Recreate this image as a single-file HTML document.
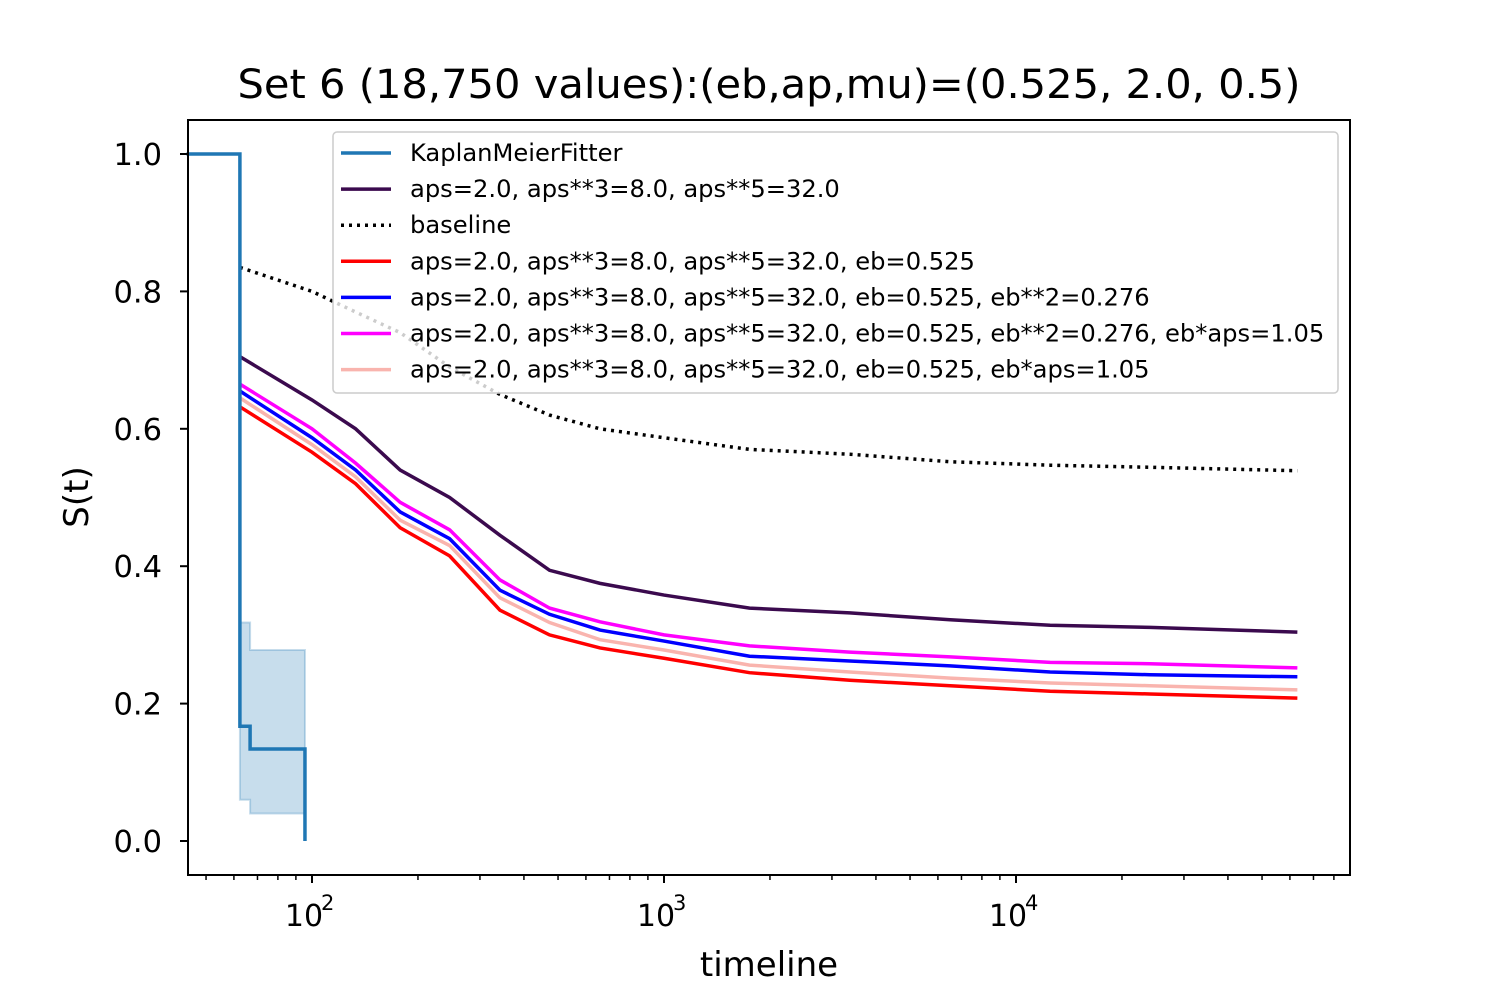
<!DOCTYPE html>
<html><head><meta charset="utf-8"><style>
body{margin:0;background:#fff}
text{font-family:"DejaVu Sans","Liberation Sans",sans-serif}
</style></head><body>
<svg id="chart" width="1500" height="1000" xmlns="http://www.w3.org/2000/svg">
<rect width="1500" height="1000" fill="#fff"/>
<text x="769" y="98" font-size="40" text-anchor="middle" textLength="1063" lengthAdjust="spacingAndGlyphs">Set 6 (18,750 values):(eb,ap,mu)=(0.525, 2.0, 0.5)</text>
<g id="plot"></g>
<rect x="188" y="120" width="1162" height="755" fill="none" stroke="#000" stroke-width="2"/>
<g id="axes"></g>
<text x="769" y="976" font-size="34" text-anchor="middle">timeline</text>
<text x="0" y="0" font-size="34" text-anchor="middle" transform="translate(88,497) rotate(-90)">S(t)</text>
<g id="legend"></g>
</svg>
<script>
const kmTimes=[44,62.4,66.7,95.5];
const kmSurv=[1.0,0.167,0.134,0.0];
const kmUpper=[0.318,0.278];
const kmLower=[0.06,0.04];
const curveTimes=[62.4,100,133,178,246,342,473,658,1000,1750,3370,6500,12500,24000,63000];
const baseline=[0.835,0.80,0.77,0.74,0.69,0.65,0.62,0.60,0.587,0.57,0.563,0.552,0.547,0.544,0.539];
const sPurple=[0.705,0.642,0.60,0.54,0.50,0.445,0.394,0.375,0.358,0.339,0.332,0.322,0.314,0.311,0.304];
const sMagenta=[0.665,0.60,0.55,0.493,0.453,0.38,0.339,0.319,0.30,0.284,0.275,0.268,0.26,0.258,0.252];
const sBlue=[0.655,0.587,0.54,0.479,0.44,0.365,0.33,0.307,0.291,0.269,0.262,0.255,0.246,0.242,0.239];
const sPink=[0.645,0.577,0.53,0.467,0.43,0.354,0.318,0.293,0.278,0.256,0.246,0.237,0.23,0.226,0.22];
const sRed=[0.632,0.566,0.52,0.456,0.415,0.336,0.30,0.281,0.266,0.245,0.234,0.226,0.218,0.214,0.208];
const yTicks=[0,0.2,0.4,0.6,0.8,1.0];
const yTickLabels=["0.0","0.2","0.4","0.6","0.8","1.0"];
const xMajor=[100,1000,10000];
const xMajorLabels=["10","10","10"];
const xMajorExp=["2","3","4"];
const legendLabels=["KaplanMeierFitter","aps=2.0, aps**3=8.0, aps**5=32.0","baseline","aps=2.0, aps**3=8.0, aps**5=32.0, eb=0.525","aps=2.0, aps**3=8.0, aps**5=32.0, eb=0.525, eb**2=0.276","aps=2.0, aps**3=8.0, aps**5=32.0, eb=0.525, eb**2=0.276, eb*aps=1.05","aps=2.0, aps**3=8.0, aps**5=32.0, eb=0.525, eb*aps=1.05"];
const NS="http://www.w3.org/2000/svg";
const X=t=>312+352*(Math.log10(t)-2);
const Y=s=>841-687*s;
function mk(tag,attrs,parent){const e=document.createElementNS(NS,tag);for(const k in attrs)e.setAttribute(k,attrs[k]);parent.appendChild(e);return e;}
const plot=document.getElementById('plot'),axes=document.getElementById('axes'),leg=document.getElementById('legend');
function stepPath(ts,vs){let d=`M${X(ts[0])},${Y(vs[0])}`;for(let i=1;i<ts.length;i++){d+=`H${X(ts[i])}V${Y(vs[i])}`;}return d;}
function linePath(ts,vs){let d=`M${X(ts[0])},${Y(vs[0])}`;for(let i=1;i<ts.length;i++){d+=`L${X(ts[i])},${Y(vs[i])}`;}return d;}
let ci=`M${X(kmTimes[1])},${Y(kmUpper[0])}H${X(kmTimes[2])}V${Y(kmUpper[1])}H${X(kmTimes[3])}V${Y(kmLower[1])}H${X(kmTimes[2])}V${Y(kmLower[0])}H${X(kmTimes[1])}Z`;
const ciEl=mk('path',{d:ci,fill:'#1f77b4','fill-opacity':0.25,stroke:'#1f77b4','stroke-opacity':0.25,'stroke-width':2},plot);


const series=[
 {v:sRed,c:'#ff0000',n:'line-eb'},
 {v:sPink,c:'#f9b4ae',n:'line-eb-ebaps'},
 {v:sBlue,c:'#0000ff',n:'line-eb-eb2'},
 {v:sMagenta,c:'#ff00ff',n:'line-eb-eb2-ebaps'},
 {v:sPurple,c:'#3b0a4e',n:'line-aps'}];
series.forEach(s=>{const p=mk('path',{d:linePath(curveTimes,s.v),fill:'none',stroke:s.c,'stroke-width':3.5},plot);

});
const bl=mk('path',{d:linePath(curveTimes,baseline),fill:'none',stroke:'#000','stroke-width':3.5,'stroke-dasharray':'3,5'},plot);


const km=mk('path',{d:stepPath(kmTimes,kmSurv),fill:'none',stroke:'#1f77b4','stroke-width':3.5},plot);


yTicks.forEach((v,i)=>{const l=mk('line',{x1:180,x2:188,y1:Y(v),y2:Y(v),stroke:'#000','stroke-width':2},axes);


const t=mk('text',{x:162,y:Y(v)+11,'font-size':30.5,'text-anchor':'end'},axes);t.textContent=yTickLabels[i];

});
xMajor.forEach((v,i)=>{const l=mk('line',{x1:X(v),x2:X(v),y1:875,y2:883,stroke:'#000','stroke-width':2},axes);


const t=mk('text',{x:X(v)-8,y:926,'font-size':30,'text-anchor':'middle'},axes);t.textContent=xMajorLabels[i];


const e=mk('text',{x:X(v)+9,y:910,'font-size':21},axes);e.textContent=xMajorExp[i];

});
for(let d=10;d<=10000;d*=10)for(let m=2;m<=9;m++){const t=d*m;const x=X(t);if(x<188||x>1350)continue;
const l=mk('line',{x1:x,x2:x,y1:875,y2:880,stroke:'#000','stroke-width':1.5},axes);

}
const lb=mk('rect',{x:333,y:132,width:1005,height:261,rx:4,fill:'#fff','fill-opacity':0.8,stroke:'#ccc','stroke-width':1.5},leg);


const legStyles=[['#1f77b4',''],['#3b0a4e',''],['#000','3,5'],['#ff0000',''],['#0000ff',''],['#ff00ff',''],['#f9b4ae','']];
legendLabels.forEach((lab,i)=>{const y=153+i*36.1;
const g=mk('g',{},leg);


const a={x1:341,x2:391,y1:y,y2:y,stroke:legStyles[i][0],'stroke-width':3.5};if(legStyles[i][1])a['stroke-dasharray']=legStyles[i][1];
mk('line',a,g);
const t=mk('text',{x:410,y:y+8,'font-size':24.2},g);t.textContent=lab;});
</script>
</body></html>
